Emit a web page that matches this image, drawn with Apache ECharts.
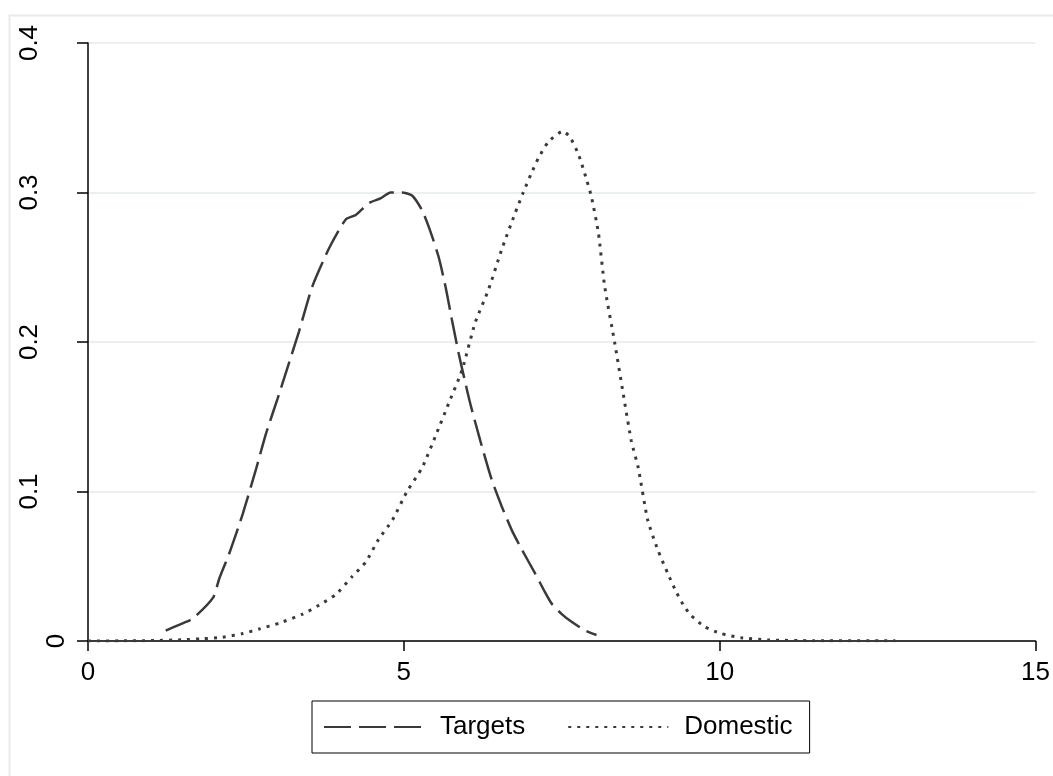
<!DOCTYPE html>
<html>
<head>
<meta charset="utf-8">
<script src="https://cdn.jsdelivr.net/npm/echarts@6/dist/echarts.min.js"></script>
<style>
html,body{margin:0;padding:0;background:#fff;}
#chart{width:1053px;height:776px;}
</style>
</head>
<body>
<div id="chart"></div>
<script>
// ---- data ----
const seriesNames = ['Targets', 'Domestic'];
const xTicks = [0, 5, 10, 15];
const yTicks = [0, 0.1, 0.2, 0.3, 0.4];

const targetsX = [1.23, 1.45, 1.66, 1.98, 2.08, 2.24, 2.45, 2.66, 2.82, 3.00, 3.19, 3.34, 3.55, 3.82, 4.08, 4.24, 4.45, 4.63, 4.79, 4.97, 5.13, 5.29, 5.42, 5.55, 5.66, 5.76, 5.87, 5.95, 6.05, 6.21, 6.39, 6.55, 6.71, 6.87, 7.08, 7.23, 7.34, 7.50, 7.65, 7.87, 8.05];
const targetsY = [0.007, 0.011, 0.015, 0.029, 0.042, 0.059, 0.085, 0.115, 0.139, 0.162, 0.187, 0.207, 0.237, 0.263, 0.282, 0.285, 0.293, 0.296, 0.300, 0.300, 0.298, 0.288, 0.274, 0.257, 0.237, 0.215, 0.192, 0.177, 0.159, 0.134, 0.108, 0.090, 0.074, 0.061, 0.045, 0.033, 0.025, 0.018, 0.013, 0.007, 0.004];

const domesticX = [0, 0.5, 1.0, 1.5, 1.8, 2.13, 2.45, 2.71, 3.03, 3.40, 3.66, 3.92, 4.18, 4.40, 4.60, 4.82, 5.05, 5.29, 5.50, 5.71, 5.92, 6.13, 6.34, 6.55, 6.76, 6.89, 7.02, 7.13, 7.29, 7.52, 7.63, 7.76, 7.89, 7.97, 8.08, 8.18, 8.34, 8.60, 8.71, 8.86, 9.02, 9.18, 9.31, 9.44, 9.55, 9.76, 10.02, 10.34, 10.76, 11.5, 12.78];
const domesticY = [0, 0.0001, 0.0003, 0.0008, 0.0015, 0.0025, 0.005, 0.008, 0.012, 0.018, 0.024, 0.031, 0.043, 0.053, 0.068, 0.081, 0.100, 0.116, 0.137, 0.159, 0.181, 0.213, 0.235, 0.262, 0.286, 0.300, 0.313, 0.323, 0.334, 0.341, 0.337, 0.326, 0.309, 0.297, 0.273, 0.237, 0.199, 0.134, 0.116, 0.081, 0.061, 0.045, 0.033, 0.023, 0.017, 0.0096, 0.005, 0.0022, 0.0007, 0.0002, 0.0001];

const pairs = (xs, ys) => xs.map((x, i) => [x, ys[i]]);

const FONT = 'Liberation Sans, Arial, Helvetica, sans-serif';
const LINE = '#3a3a3a';

const chart = echarts.init(document.getElementById('chart'), null, {renderer: 'canvas'});
chart.setOption({
  backgroundColor: '#ffffff',
  animation: false,
  graphic: [{
    type: 'rect',
    shape: {x: 9.5, y: 15.5, width: 1200, height: 900},
    style: {fill: null, stroke: '#e4ecee', lineWidth: 2},
    silent: true,
    z: -10
  }],
  grid: {left: 88, right: 14, top: 43, bottom: 135, containLabel: false},
  xAxis: {
    type: 'value',
    min: xTicks[0], max: xTicks[xTicks.length - 1], interval: 5,
    axisLine: {show: true, onZero: false, lineStyle: {color: '#000', width: 1.5}},
    axisTick: {show: true, length: 10, lineStyle: {color: '#000', width: 1.5}},
    axisLabel: {fontSize: 26, fontFamily: FONT, color: '#000', margin: 19},
    splitLine: {show: false}
  },
  yAxis: {
    type: 'value',
    min: yTicks[0], max: yTicks[yTicks.length - 1], interval: 0.1,
    axisLine: {show: true, onZero: false, lineStyle: {color: '#000', width: 1.5}},
    axisTick: {show: true, length: 11, lineStyle: {color: '#000', width: 1.5}},
    axisLabel: {
      rotate: 90, margin: 18, color: '#000', fontSize: 26, fontFamily: FONT,
      formatter: v => (Math.abs(v) < 1e-9 ? '{z|0}' : '{n|' + v.toFixed(1) + '}'),
      rich: {
        z: {fontSize: 26, fontFamily: FONT, color: '#000'},
        n: {fontSize: 26, fontFamily: FONT, color: '#000', padding: [0, 0, 27, 0]}
      }
    },
    splitLine: {show: true, lineStyle: {color: '#e8f0f2', width: 2}}
  },
  legend: {
    data: seriesNames,
    left: 312, top: 701,
    orient: 'horizontal',
    borderColor: '#000', borderWidth: 1,
    padding: [13, 17, 13, 11],
    itemWidth: 100, itemHeight: 28, itemGap: 42,
    itemStyle: {opacity: 0, borderWidth: 0},
    textStyle: {fontSize: 26, fontFamily: FONT, color: '#000', padding: [4, 0, 0, 11]}
  },
  series: [
    {
      name: seriesNames[0], type: 'line', data: pairs(targetsX, targetsY),
      symbol: 'none', smooth: 0.2,
      lineStyle: {color: LINE, width: 2.5, type: [27, 8], cap: 'butt'},
      itemStyle: {color: LINE}
    },
    {
      name: seriesNames[1], type: 'line', data: pairs(domesticX, domesticY),
      symbol: 'none', smooth: 0.2,
      lineStyle: {color: LINE, width: 3, type: [3, 6], cap: 'butt'},
      itemStyle: {color: LINE}
    }
  ]
});
</script>
</body>
</html>
